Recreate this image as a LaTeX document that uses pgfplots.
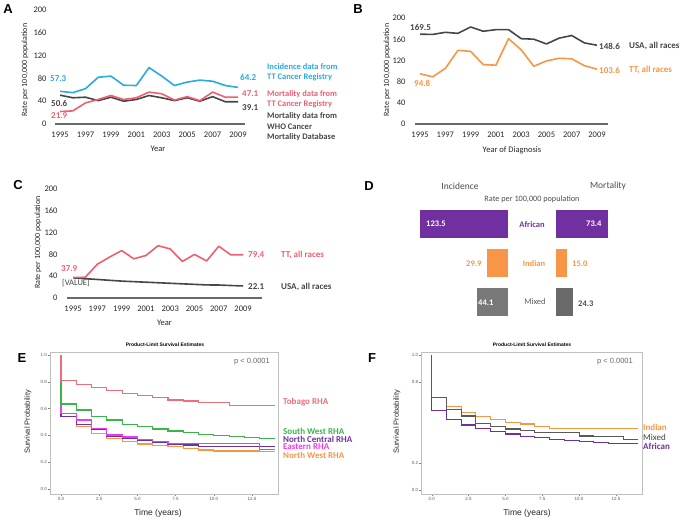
\documentclass[border=0pt]{standalone}
\usepackage{fontspec}
\setmainfont{Carlito}
\newfontfamily\arialf{Liberation Sans}
\usepackage{pgfplots}
\pgfplotsset{compat=1.18}
\newcommand{\fs}[1]{\fontsize{#1}{#1}\selectfont}
\definecolor{cblue}{RGB}{41,171,226}
\definecolor{cred}{RGB}{236,96,112}
\definecolor{cdark}{RGB}{70,70,70}
\definecolor{cbase}{RGB}{105,105,105}
\definecolor{corange}{RGB}{247,150,70}
\definecolor{cpurple}{RGB}{112,48,160}
\definecolor{cgreen}{RGB}{60,180,75}
\definecolor{cmagenta}{RGB}{235,60,235}
\definecolor{ctobago}{RGB}{236,110,122}
\definecolor{cmixinc}{RGB}{120,120,120}
\definecolor{cmixmor}{RGB}{105,105,105}
\definecolor{ckmgray}{RGB}{90,90,90}

\pgfplotsset{
  trend/.style={
    scale only axis, clip=false,
    axis line style={draw=none},
    major tick length=0pt,
    xtick={1995,1997,...,2009},
    ytick={0,40,...,200},
    ymin=0, ymax=200,
    /pgf/number format/assume math mode=true,
    /pgf/number format/1000 sep={},
    tick label style={font=\fs{8.5}, text=black!85},
    xticklabel style={yshift=-4pt},
    every axis plot/.append style={line width=1.6pt, no marks, line join=round},
  },
  km/.style={
    scale only axis,
    axis line style={draw=black!25, line width=0.5pt},
    tick style={draw=black!50, line width=0.3pt},
    tick align=outside, major tick length=1.8pt,
    xtick pos=left, ytick pos=left,
    xtick={0,2.5,5,7.5,10,12.5},
    xticklabels={0.0,2.5,5.0,7.5,10.0,12.5},
    tick label style={font=\arialf\fs{4.5}, text=black!65, inner sep=1pt},
    every axis plot/.append style={const plot, no marks, line width=1.15pt},
  },
}

\begin{document}
\begin{tikzpicture}
\path[use as bounding box] (0pt,0pt) rectangle (685pt,-521pt);

% ---------------- Panel A ----------------
\begin{axis}[trend, at={(55pt,-124pt)}, anchor=south west, width=190pt, height=114pt,
  xmin=1994.6, xmax=2009.55, yticklabel style={xshift=-5pt}]
\addplot[cbase, line width=1.5pt] coordinates {(1994.6,0)(2009.55,0)};
\addplot[cdark] coordinates {(1995,50.6)(1996,46)(1997,47)(1998,41)(1999,47)(2000,40)(2001,43)(2002,50)(2003,46)(2004,41)(2005,46)(2006,40)(2007,48)(2008,39)(2009,39.1)};
\addplot[cred] coordinates {(1995,21.9)(1996,23)(1997,37)(1998,43)(1999,50)(2000,43)(2001,46)(2002,56)(2003,53)(2004,42)(2005,48)(2006,41)(2007,56)(2008,47)(2009,47.1)};
\addplot[cblue] coordinates {(1995,57.3)(1996,55)(1997,62)(1998,82)(1999,84)(2000,68)(2001,67.5)(2002,99)(2003,84)(2004,67.5)(2005,73.5)(2006,77)(2007,75)(2008,67.5)(2009,64.2)};
\end{axis}
\node[font=\arialf\bfseries\fs{13}] at (8pt,-9pt) {A};
\node[rotate=90, font=\fs{8}, text=black!85] at (25pt,-70pt) {Rate per 100,000 population};
\node[font=\fs{8.5}, text=black!85] at (158pt,-149pt) {Year};
\begin{scope}[every node/.style={anchor=west, inner sep=0pt, font=\bfseries\fs{9}}]
\node[text=cblue] at (50pt,-79pt) {57.3};
\node[text=cdark] at (51pt,-103pt) {50.6};
\node[text=cred] at (51pt,-116pt) {21.9};
\node[text=cblue] at (240pt,-77pt) {64.2};
\node[text=cred] at (242pt,-94pt) {47.1};
\node[text=cdark] at (242pt,-108pt) {39.1};
\end{scope}
\begin{scope}[every node/.style={anchor=west, inner sep=0pt, font=\bfseries\fs{8.5}}]
\node[text=cblue] at (267pt,-67pt) {Incidence data from};
\node[text=cblue] at (267pt,-77.5pt) {TT Cancer Registry};
\node[text=cred] at (267pt,-94pt) {Mortality data from};
\node[text=cred] at (267pt,-104.5pt) {TT Cancer Registry};
\node[text=cdark] at (267pt,-116pt) {Mortality data from};
\node[text=cdark] at (267pt,-126.5pt) {WHO Cancer};
\node[text=cdark] at (267pt,-137pt) {Mortality Database};
\end{scope}

% ---------------- Panel B ----------------
\begin{axis}[trend, at={(415pt,-124pt)}, anchor=south west, width=193pt, height=106pt,
  xmin=1994.6, xmax=2009.87, yticklabel style={xshift=-6pt}]
\addplot[cbase, line width=1.5pt] coordinates {(1994.6,0)(2009.87,0)};
\addplot[cdark] coordinates {(1995,169.5)(1996,169)(1997,173)(1998,171)(1999,183)(2000,175)(2001,178)(2002,178)(2003,161)(2004,160)(2005,151)(2006,162)(2007,167)(2008,153)(2009,148.6)};
\addplot[corange] coordinates {(1995,94.8)(1996,89)(1997,105)(1998,139)(1999,137)(2000,112)(2001,111)(2002,161)(2003,140)(2004,109)(2005,119)(2006,124)(2007,123)(2008,110)(2009,103.6)};
\end{axis}
\node[font=\arialf\bfseries\fs{13}] at (358pt,-9pt) {B};
\node[rotate=90, font=\fs{8}, text=black!85] at (387pt,-70pt) {Rate per 100,000 population};
\node[font=\fs{8.5}, text=black!85] at (512pt,-150pt) {Year of Diagnosis};
\begin{scope}[every node/.style={anchor=west, inner sep=0pt, font=\bfseries\fs{9}}]
\node[text=cdark] at (410pt,-27pt) {169.5};
\node[text=cdark] at (599pt,-46pt) {148.6};
\node[text=corange] at (599pt,-70pt) {103.6};
\node[text=corange] at (414pt,-83pt) {94.8};
\node[text=cdark] at (629pt,-46pt) {USA, all races};
\node[text=corange] at (629pt,-70pt) {TT, all races};
\end{scope}

% ---------------- Panel C ----------------
\begin{axis}[trend, at={(67pt,-298pt)}, anchor=south west, width=195pt, height=109pt,
  xmin=1994.5, xmax=2010.56, yticklabel style={xshift=-6pt}]
\addplot[cbase, line width=1.5pt] coordinates {(1994.5,0)(2010.56,0)};
\addplot[cdark] coordinates {(1995,37)(1996,35.5)(1997,34)(1998,32.5)(1999,31)(2000,30)(2001,29)(2002,28)(2003,27)(2004,26)(2005,25)(2006,24)(2007,23.8)(2008,22.9)(2009,22.1)};
\addplot[cred] coordinates {(1995,37.9)(1996,38)(1997,62)(1998,75)(1999,87)(2000,72)(2001,78)(2002,96)(2003,90)(2004,67)(2005,80)(2006,68)(2007,95)(2008,79)(2009,79.4)};
\end{axis}
\node[font=\arialf\bfseries\fs{13}] at (18pt,-185pt) {C};
\node[rotate=90, font=\fs{8}, text=black!85] at (38pt,-242.5pt) {Rate per 100,000 population};
\node[font=\fs{8.5}, text=black!85] at (164.5pt,-323pt) {Year};
\begin{scope}[every node/.style={anchor=west, inner sep=0pt, font=\bfseries\fs{9}}]
\node[text=cred] at (61pt,-269pt) {37.9};
\node[text=cred] at (248pt,-255pt) {79.4};
\node[text=cdark] at (248pt,-287pt) {22.1};
\node[text=cred] at (281pt,-255pt) {TT, all races};
\node[text=cdark] at (281pt,-287pt) {USA, all races};
\node[text=cdark, font=\fs{8.5}] at (62pt,-283pt) {[VALUE]};
\end{scope}

% ---------------- Panel D ----------------
\begin{axis}[at={(461.65pt,-263pt)}, anchor=center, scale only axis, width=92.69pt, height=117pt,
  xmin=0, xmax=130, x dir=reverse, ymin=-0.5, ymax=2.5, y dir=reverse, hide axis, clip=false]
\addplot[xbar, bar width=28.5pt, bar shift=0pt, fill=cpurple, draw=none] coordinates {(123.5,0)};
\addplot[xbar, bar width=28.5pt, bar shift=0pt, fill=corange, draw=none] coordinates {(29.9,1)};
\addplot[xbar, bar width=28.5pt, bar shift=0pt, fill=cmixinc, draw=none] coordinates {(44.1,2)};
\end{axis}
\begin{axis}[at={(584.52pt,-263pt)}, anchor=center, scale only axis, width=57.04pt, height=117pt,
  xmin=0, xmax=80, ymin=-0.5, ymax=2.5, y dir=reverse, hide axis, clip=false]
\addplot[xbar, bar width=28.5pt, bar shift=0pt, fill=cpurple, draw=none] coordinates {(73.4,0)};
\addplot[xbar, bar width=28.5pt, bar shift=0pt, fill=corange, draw=none] coordinates {(15.0,1)};
\addplot[xbar, bar width=28.5pt, bar shift=0pt, fill=cmixmor, draw=none] coordinates {(24.3,2)};
\end{axis}
\node[font=\arialf\bfseries\fs{13}] at (369pt,-186pt) {D};
\node[font=\fs{9.5}, text=black!70] at (460pt,-186pt) {Incidence};
\node[font=\fs{9.5}, text=black!70] at (608pt,-186pt) {Mortality};
\node[font=\fs{8.2}, text=black!70] at (532pt,-199pt) {Rate per 100,000 population};
\node[font=\bfseries\fs{8.5}, text=cpurple] at (532pt,-225pt) {African};
\node[font=\bfseries\fs{8.5}, text=corange] at (534pt,-264pt) {Indian};
\node[font=\fs{8.5}, text=black!65] at (535pt,-302pt) {Mixed};
\begin{scope}[every node/.style={anchor=west, inner sep=0pt, font=\bfseries\fs{8.5}}]
\node[text=white] at (426pt,-224pt) {123.5};
\node[text=white] at (586pt,-224pt) {73.4};
\node[text=corange] at (466pt,-264pt) {29.9};
\node[text=corange] at (572pt,-264pt) {15.0};
\node[text=white] at (478pt,-303pt) {44.1};
\node[text=black!70] at (578pt,-304pt) {24.3};
\end{scope}

% ---------------- Panel E ----------------
\begin{axis}[km, at={(50pt,-494pt)}, anchor=south west, width=228pt, height=142pt,
  xmin=-0.72, xmax=14.2, ymin=-0.037, ymax=1.022,
  ytick={0,0.2,0.4,0.6,0.8,1.0}, yticklabels={0.0,0.2,0.4,0.6,0.8,1.0}]
\addplot[corange] coordinates {(0,1)(0,0.54)(1,0.465)(2,0.413)(3,0.378)(4,0.353)(5,0.336)(6,0.325)(7,0.316)(8,0.304)(9,0.291)(10,0.284)(13,0.279)(14,0.279)};
\addplot[cpurple] coordinates {(0,1)(0,0.543)(1,0.483)(2,0.445)(3,0.395)(4,0.38)(5,0.36)(6,0.347)(7,0.336)(8,0.328)(9,0.316)(14,0.316)};
\addplot[cmagenta] coordinates {(0,1)(0,0.565)(1,0.515)(2,0.453)(3,0.403)(4,0.388)(5,0.368)(6,0.356)(7,0.341)(8,0.337)(13,0.292)(14,0.292)};
\addplot[cgreen] coordinates {(0,1)(0,0.634)(1,0.59)(2,0.54)(3,0.515)(4,0.484)(5,0.465)(6,0.448)(7,0.433)(8,0.42)(9,0.408)(10,0.398)(11,0.39)(12,0.386)(13,0.378)(14,0.378)};
\addplot[ctobago] coordinates {(0,1)(0,0.81)(1,0.782)(2,0.758)(3,0.734)(4,0.714)(5,0.695)(6,0.681)(7,0.664)(8,0.657)(9,0.648)(10,0.646)(11,0.626)(14,0.626)};
\end{axis}
\node[font=\arialf\bfseries\fs{13}] at (22pt,-358pt) {E};
\node[font=\arialf\bfseries\fs{5}] at (165pt,-345pt) {Product-Limit Survival Estimates};
\node[font=\arialf\fs{7.5}, text=black!60] at (252pt,-362pt) {p < 0.0001};
\node[rotate=90, font=\arialf\fs{7.5}, text=black!85] at (28pt,-422pt) {Survival Probability};
\node[font=\arialf\fs{8.5}, text=black!85] at (158pt,-513pt) {Time (years)};
\begin{scope}[every node/.style={anchor=west, inner sep=0pt, font=\bfseries\fs{9}}]
\node[text=ctobago] at (283pt,-402.5pt) {Tobago RHA};
\node[text=cgreen] at (283pt,-431pt) {South West RHA};
\node[text=cpurple] at (283pt,-439pt) {North Central RHA};
\node[text=cmagenta] at (283pt,-447pt) {Eastern RHA};
\node[text=corange] at (283pt,-455pt) {North West RHA};
\end{scope}

% ---------------- Panel F ----------------
\begin{axis}[km, at={(421pt,-494pt)}, anchor=south west, width=221pt, height=142pt,
  xmin=-0.726, xmax=14.27, ymin=-0.03, ymax=1.022,
  ytick={0,0.2,0.8,1.0}, yticklabels={0.0,0.2,0.8,1.0}]
\addplot[corange] coordinates {(0,1)(0,0.687)(1,0.617)(2,0.573)(3,0.543)(4,0.519)(5,0.501)(6,0.489)(7,0.469)(8,0.457)(14,0.457)};
\addplot[ckmgray] coordinates {(0,1)(0,0.687)(1,0.593)(2,0.548)(3,0.494)(4,0.469)(5,0.452)(6,0.44)(7,0.424)(10,0.4)(11,0.395)(13,0.375)(14,0.375)};
\addplot[cpurple] coordinates {(0,0.687)(0,0.588)(1,0.524)(2,0.481)(3,0.457)(4,0.432)(5,0.415)(6,0.395)(7,0.388)(8,0.375)(9,0.365)(10,0.358)(11,0.35)(12,0.346)(13,0.341)(14,0.341)};
\end{axis}
\node[font=\arialf\bfseries\fs{13}] at (372pt,-358pt) {F};
\node[font=\arialf\bfseries\fs{5}] at (532pt,-345pt) {Product-Limit Survival Estimates};
\node[font=\arialf\fs{7.5}, text=black!60] at (615pt,-362pt) {p < 0.0001};
\node[rotate=90, font=\arialf\fs{7.5}, text=black!85] at (397pt,-422pt) {Survival Probability};
\node[font=\arialf\fs{8.5}, text=black!85] at (527pt,-513pt) {Time (years)};
\begin{scope}[every node/.style={anchor=west, inner sep=0pt, font=\bfseries\fs{9}}]
\node[text=corange] at (643pt,-427pt) {Indian};
\node[text=black!75, font=\fs{9}] at (643pt,-437pt) {Mixed};
\node[text=cpurple] at (643pt,-446pt) {African};
\end{scope}
\end{tikzpicture}
\end{document}
